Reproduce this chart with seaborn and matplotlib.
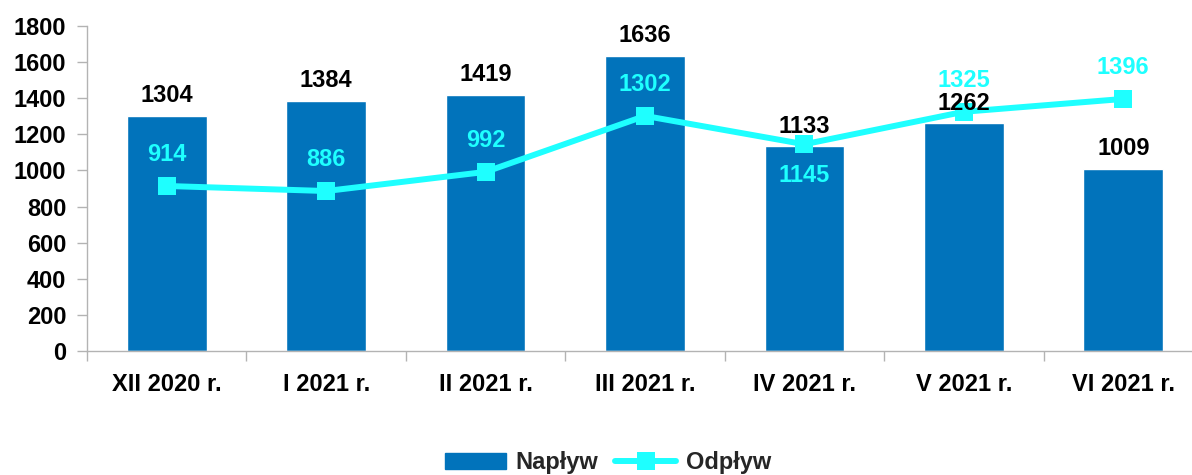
import numpy as np
import matplotlib
matplotlib.use("Agg")
import matplotlib.pyplot as plt
from matplotlib.patches import Patch
from matplotlib.lines import Line2D
from matplotlib.ticker import FixedLocator
import seaborn as sns

categories = ["XII 2020 r.", "I 2021 r.", "II 2021 r.", "III 2021 r.", "IV 2021 r.", "V 2021 r.", "VI 2021 r."]
naplyw = [1304, 1384, 1419, 1636, 1133, 1262, 1009]
odplyw = [914, 886, 992, 1302, 1145, 1325, 1396]
odplyw_label_below = [False, False, False, False, True, False, False]

sns.set_theme(style="white")
plt.rcParams['font.family'] = ['Liberation Sans', 'DejaVu Sans']
plt.rcParams['font.weight'] = 'bold'

BAR = "#0173BB"
LINE = "#1EFFFF"
AX = "#b3b3b3"
FS = 17

W, H = 1192, 475
fig = plt.figure(figsize=(W / 100, H / 100), dpi=100)
ax = fig.add_axes([87 / W, (H - 351) / H, (1203 - 87) / W, (351 - 26) / H])

sns.barplot(x=categories, y=naplyw, color=BAR, width=0.5, saturation=1, ax=ax, zorder=2)
xs = np.arange(len(categories))
sns.lineplot(x=xs, y=odplyw, color=LINE, linewidth=4.3, marker="s", markersize=13,
             markeredgewidth=0, ax=ax, zorder=3)

ax.set_xlim(-0.5, len(categories) - 0.5)
ax.set_ylim(0, 1800)
ax.set_yticks(np.arange(0, 1801, 200))
ax.set_xticks(xs)
ax.set_xticklabels(categories)
ax.xaxis.set_minor_locator(FixedLocator(np.arange(-0.5, len(categories), 1.0)))

for s in ["top", "right"]:
    ax.spines[s].set_visible(False)
for s in ["left", "bottom"]:
    ax.spines[s].set_color(AX)
    ax.spines[s].set_linewidth(1.0)

ax.tick_params(axis="y", which="major", length=7, width=1, color=AX, pad=8,
               labelsize=FS, labelcolor="black", left=True)
ax.tick_params(axis="x", which="major", length=0, pad=16, labelsize=FS, labelcolor="black", bottom=True)
ax.tick_params(axis="x", which="minor", length=7, width=1, color=AX, bottom=True)
for lab in ax.get_xticklabels() + ax.get_yticklabels():
    lab.set_fontweight("bold")
ax.set_xlabel("")
ax.set_ylabel("")
ax.grid(False)

for i, v in enumerate(naplyw):
    ax.annotate(str(v), (i, v), xytext=(0, 14.5), textcoords="offset points",
                ha="center", va="center", fontsize=FS, fontweight="bold", color="black", zorder=5)
for i, v in enumerate(odplyw):
    off = -22.5 if odplyw_label_below[i] else 22.5
    ax.annotate(str(v), (i, v), xytext=(0, off), textcoords="offset points",
                ha="center", va="center", fontsize=FS, fontweight="bold", color=LINE, zorder=5)

handles = [Patch(facecolor=BAR, edgecolor=BAR),
           Line2D([0], [0], color=LINE, linewidth=4.3, marker="s", markersize=13, markeredgewidth=0)]
leg = fig.legend(handles, ["Napływ", "Odpływ"], loc="center", bbox_to_anchor=(608 / W, 1 - 463 / H),
                 ncol=2, frameon=False, prop={"size": FS, "weight": "bold"},
                 handlelength=2.6, handleheight=0.65, handletextpad=0.4, columnspacing=0.7)

fig.savefig("out.png", dpi=100)
